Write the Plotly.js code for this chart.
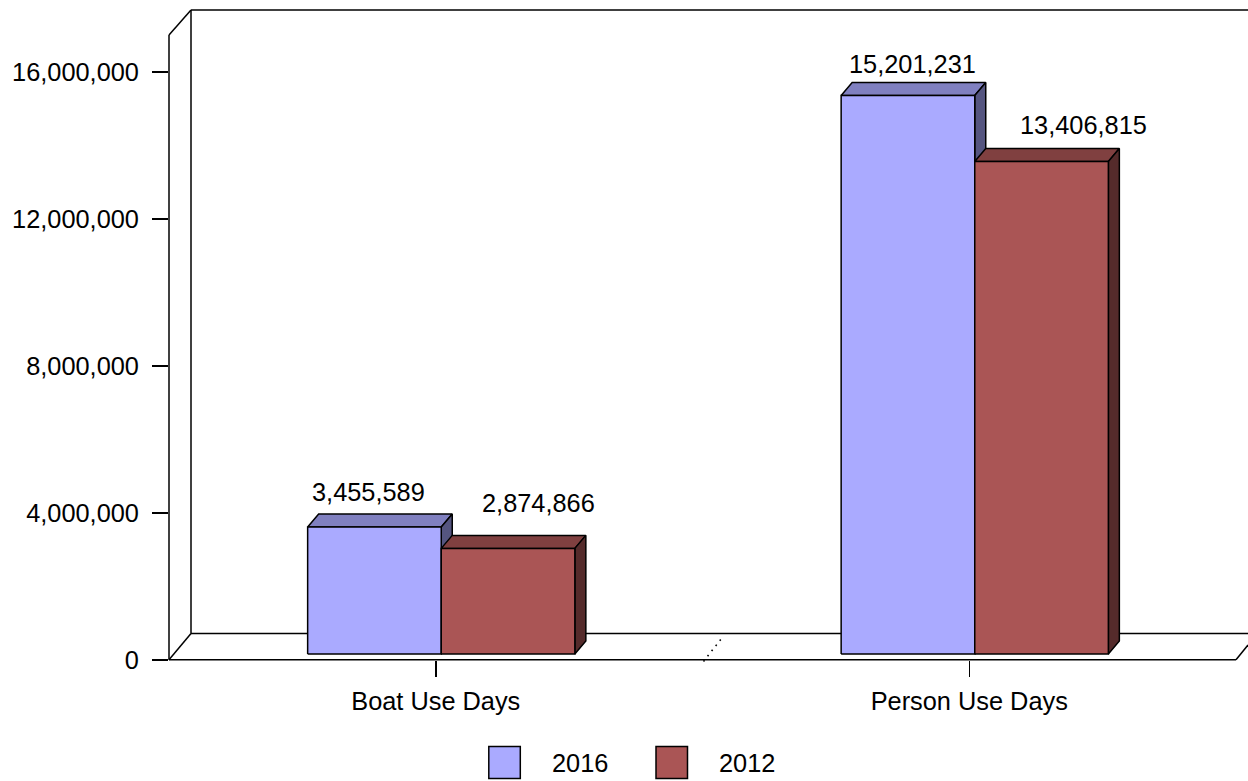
<!DOCTYPE html>
<html><head><meta charset="utf-8">
<script src="https://cdn.plot.ly/plotly-3.0.1.min.js"></script>
<style>html,body{margin:0;padding:0;background:#fff}#c{width:1248px;height:781px}</style>
</head><body><div id="c"></div>
<script>
var categories = ["Boat Use Days", "Person Use Days"];
var seriesNames = ["2016", "2012"];
var values2016 = [3455589, 15201231];
var values2012 = [2874866, 13406815];
var yTicks = [0, 4000000, 8000000, 12000000, 16000000];

// geometry and styling
var W = 1248, H = 781, L = 169, B = 660;
var catPx = 533.5, zeroPx = 435.75, yPxPerUnit = 146.95 / 4000000;
var xr = [(L - zeroPx) / catPx, (W - zeroPx) / catPx];
var yr = [0, B / yPxPerUnit];
var FONT = "Liberation Sans, Arial, sans-serif", FS = 25.35, INK = "#000";
var LW = 1.5;
var colors = [
  {front: "#AAAAFF", top: "#8080C0", side: "#555580"},
  {front: "#AA5555", top: "#804040", side: "#552B2B"}
];
var barW = 133.6 / catPx, depthX = 11 / catPx, depthY = 13 / yPxPerUnit;
var liftX = 5.5 / catPx, liftY = 6 / yPxPerUnit;
var labelShift = [[[-6, 35], [30, 45]], [[5, 32], [42, 36]]];

function fx(p) { return (p - L) / (W - L); }
function fy(p) { return (B - p) / B; }
function seg(x0, y0, x1, y1, extra) {
  return Object.assign({type: "line", xref: "paper", yref: "paper", layer: "below",
    x0: fx(x0), y0: fy(y0), x1: fx(x1), y1: fy(y1), line: {color: INK, width: LW}}, extra || {});
}
function face(xs, ys, color) {
  return {type: "scatter", mode: "lines", x: xs, y: ys, fill: "toself", fillcolor: color,
    line: {color: INK, width: LW, shape: "linear"}, hoverinfo: "skip", showlegend: false};
}

var traces = [], annotations = [];
var seriesValues = [values2016, values2012];
categories.forEach(function (cat, c) {
  seriesValues.forEach(function (vals, s) {
    var x0 = c - barW + s * barW + liftX, x1 = x0 + barW;
    var y0 = liftY, y1 = liftY + vals[c];
    var col = colors[s];
    traces.push(face([x0, x0 + depthX, x1 + depthX, x1, x0], [y1, y1 + depthY, y1 + depthY, y1, y1], col.top));
    traces.push(face([x1, x1 + depthX, x1 + depthX, x1, x1], [y1, y1 + depthY, y0 + depthY, y0, y1], col.side));
    traces.push(face([x0, x1, x1, x0, x0], [y0, y0, y1, y1, y0], col.front));
    annotations.push({xref: "x", yref: "y", x: (x0 + x1) / 2, y: y1,
      text: vals[c].toLocaleString("en-US"), showarrow: false,
      xshift: labelShift[c][s][0], yshift: labelShift[c][s][1],
      font: {family: FONT, size: FS, color: INK}});
  });
});

var shapes = [
  seg(169, 659.7, 169, 35), seg(169, 35, 191, 10), seg(191, 10, 1248, 10),
  seg(191, 10, 191, 633.5), seg(169, 659.7, 191, 633.5), seg(191, 633.5, 1248, 633.5),
  seg(169, 659.7, 1236, 659.7), seg(1236, 659.7, 1248, 645),
  seg(703.5, 661.5, 723, 636.5, {layer: "above", line: {color: INK, width: 1.6, dash: "1.6px,5px"}})
];

// legend
var swatchX = [488.8, 656], labelX = [579.5, 747], legendY = [746.5, 778.5];
seriesNames.forEach(function (n, s) {
  shapes.push({type: "rect", xref: "paper", yref: "paper", layer: "above",
    x0: fx(swatchX[s]), x1: fx(swatchX[s] + 31.5), y0: fy(legendY[0]), y1: fy(legendY[1]),
    fillcolor: colors[s].front, line: {color: INK, width: LW}});
  annotations.push({xref: "paper", yref: "paper", x: fx(labelX[s]), y: fy(763),
    xanchor: "center", yanchor: "middle", text: n, showarrow: false,
    font: {family: FONT, size: FS, color: INK}});
});

var layout = {
  width: W, height: H, paper_bgcolor: "#fff", plot_bgcolor: "rgba(0,0,0,0)",
  margin: {l: L, r: 0, t: 0, b: H - B, pad: 0}, showlegend: false, hovermode: false,
  font: {family: FONT, size: FS, color: INK},
  xaxis: {range: xr, tickmode: "array", tickvals: [0, 1], ticktext: categories,
    showgrid: false, zeroline: false, showline: false, ticks: "outside", ticklen: 16,
    tickwidth: LW, tickcolor: INK, ticklabelstandoff: 3, fixedrange: true},
  yaxis: {range: yr, tickmode: "array", tickvals: yTicks, tickformat: ",",
    showgrid: false, zeroline: false, showline: false, ticks: "outside", ticklen: 16,
    tickwidth: LW, tickcolor: INK, ticklabelstandoff: 8, fixedrange: true},
  shapes: shapes, annotations: annotations
};
Plotly.newPlot("c", traces, layout, {displayModeBar: false, staticPlot: true});
</script></body></html>
